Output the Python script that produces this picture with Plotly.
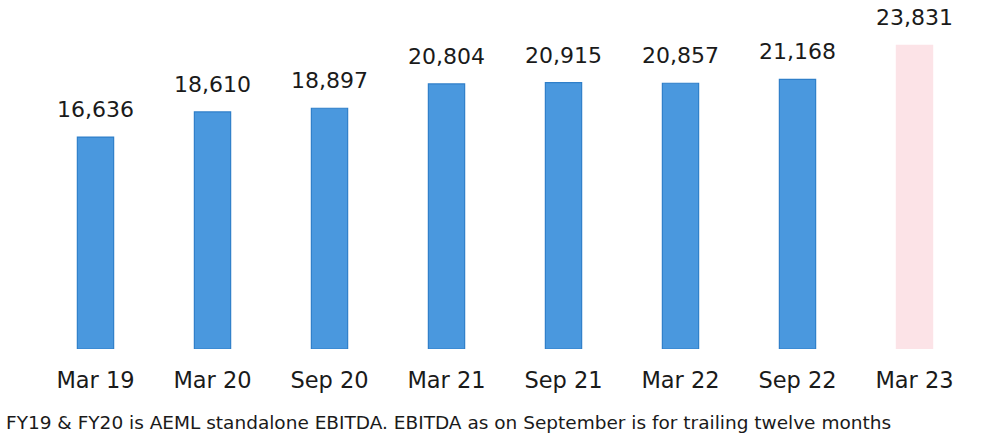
import plotly.graph_objects as go

categories = ["Mar 19", "Mar 20", "Sep 20", "Mar 21", "Sep 21", "Mar 22", "Sep 22", "Mar 23"]
values = [16636, 18610, 18897, 20804, 20915, 20857, 21168, 23831]
value_labels = ["16,636", "18,610", "18,897", "20,804", "20,915", "20,857", "21,168", "23,831"]
bar_colors = ["#4a98de"] * 7 + ["#fce3e7"]
line_colors = ["#2f7fc9"] * 7 + ["#fce3e7"]
footnote = "FY19 & FY20 is AEML standalone EBITDA. EBITDA as on September is for trailing twelve months"

FONT = "DejaVu Sans"

fig = go.Figure()
fig.add_trace(go.Bar(
    x=categories, y=values,
    marker=dict(color=bar_colors, line=dict(color=line_colors, width=1.2)),
    width=0.31,
    hoverinfo="skip",
))

for c, v, t in zip(categories, values, value_labels):
    fig.add_annotation(x=c, y=v, text=t, showarrow=False, yanchor="bottom",
                       yshift=13, font=dict(family=FONT, size=22, color="#1a1a1a"))

fig.add_annotation(x=0, xref="paper", xanchor="left", xshift=-33,
                   y=0, yref="paper", yanchor="top", yshift=-61,
                   text=footnote, showarrow=False,
                   font=dict(family=FONT, size=18.5, color="#1a1a1a"))

fig.update_layout(
    width=1008, height=437,
    margin=dict(l=37, r=35, t=5, b=88),
    paper_bgcolor="white", plot_bgcolor="white",
    showlegend=False,
    bargap=0.69,
    xaxis=dict(showline=False, showgrid=False, ticks="",
               tickfont=dict(family=FONT, size=22.5, color="#1a1a1a"),
               ticklabelstandoff=15),
    yaxis=dict(range=[0, 27000], visible=False, showgrid=False),
)

fig.write_html("out.html")
